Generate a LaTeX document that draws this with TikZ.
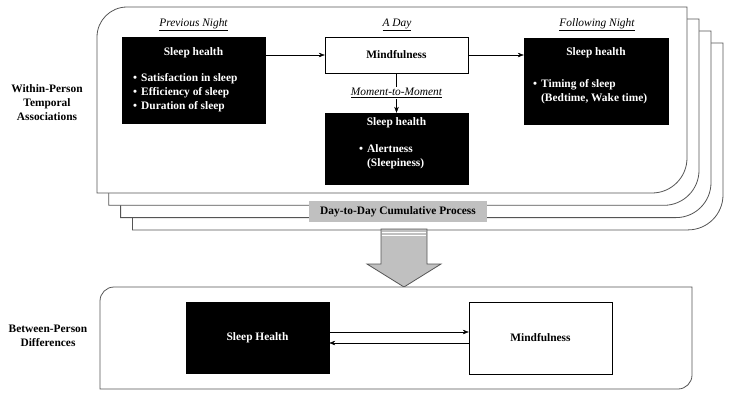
\documentclass[tikz,border=0pt]{standalone}
\usepackage{fontspec}
\setmainfont{Liberation Serif}
\usetikzlibrary{arrows.meta}
\definecolor{framegray}{HTML}{555555}
\definecolor{bandgray}{HTML}{C0C0C0}
\tikzset{
  txt/.style={font=\fontsize{11.4}{14}\selectfont\bfseries, inner sep=0pt},
  blackbox/.style={draw=black, fill=black, minimum width=143pt, minimum height=86pt, inner sep=0pt},
  whitebox/.style={draw=black, fill=white, thin, inner sep=0pt, txt},
  boxtitle/.style={txt, text=white},
  bullets/.style={txt, text=white, anchor=west, align=left},
  period/.style={font=\fontsize{11.4}{14}\selectfont\itshape, inner sep=1pt},
  side/.style={txt, align=center},
  link/.style={-{Stealth[length=6pt,width=4.5pt]}, thin},
}
\begin{document}
\begin{tikzpicture}[x=1pt,y=-1pt]
  \useasboundingbox (0,0) rectangle (735,402);
  % stacked day panels, back to front
  \foreach \i in {3,2,1,0} {
    \draw[framegray, fill=white, line width=0.8pt]
      ({97+11.8*\i},{193+12.3*\i}) -- ({97+11.8*\i},{37+12*\i})
      arc[start angle=180, end angle=270, radius=30] -- ({687+12*\i},{7+12*\i})
      -- ({687+12*\i},{158+12.3*\i})
      arc[start angle=0, end angle=90, radius=35] -- cycle;
  }
  \node[txt, fill=bandgray, minimum width=178pt, minimum height=21pt] (cum) at (398,211.5) {Day-to-Day Cumulative Process};
  % big arrow
  \draw[framegray, fill=bandgray, line width=0.8pt]
    (381,229) -- (427,229) -- (427,264) -- (441,264) -- (404,287)
    -- (367,264) -- (381,264) -- cycle;
  \draw[white, line width=0.9pt] (381.6,232) -- (426.4,232);
  \draw[white, line width=0.9pt] (381.6,235.5) -- (426.4,235.5);
  % between-person panel
  \draw[framegray, fill=white, line width=0.8pt]
    (100,389) -- (100,301) arc[start angle=180, end angle=270, radius=14]
    -- (692,287) -- (692,375) arc[start angle=0, end angle=90, radius=14] -- cycle;

  % within-person nodes
  \node[blackbox] (prev) at (193.5,80) {};
  \node[blackbox, minimum height=86pt, minimum width=144pt] (follow) at (596,81) {};
  \node[blackbox, minimum height=71pt] (moment) at (396.5,148.5) {};
  \node[whitebox, minimum width=143pt, minimum height=36pt] (mind) at (396.5,55) {Mindfulness};

  \node[period] (prevlab) at (193.5,25) {\underline{Previous Night}};
  \node[period] (daylab) at (397,25) {\underline{A Day}};
  \node[period] (followlab) at (597,25) {\underline{Following Night}};

  \node[boxtitle] (prevtitle) at (193.5,53) {Sleep health};
  \node[bullets] (prevlist) at (133,93) {\begin{tabular}{@{}l@{\hspace{4pt}}l@{}}
    \textbullet & Satisfaction in sleep\\
    \textbullet & Efficiency of sleep\\
    \textbullet & Duration of sleep
  \end{tabular}};
  \node[boxtitle] (followtitle) at (596,53) {Sleep health};
  \node[bullets] (followlist) at (533,92) {\begin{tabular}{@{}l@{\hspace{4pt}}l@{}}
    \textbullet & Timing of sleep\\
     & (Bedtime, Wake time)
  \end{tabular}};
  \node[boxtitle] (momenttitle) at (396.5,123) {Sleep health};
  \node[bullets] (momentlist) at (359,157) {\begin{tabular}{@{}l@{\hspace{4pt}}l@{}}
    \textbullet & Alertness\\
     & (Sleepiness)
  \end{tabular}};

  \draw[link] (prev.east |- mind.west) -- (mind.west);
  \draw[link] (mind.east) -- (mind.east -| follow.west);
  \draw[link] (mind.south) -- node[period, fill=white] (momentlab) {\underline{Moment-to-Moment}} (moment.north);

  % between-person nodes
  \node[blackbox, minimum width=143pt, minimum height=71pt] (health) at (257.5,337.5) {};
  \node[boxtitle] (healthtitle) at (health.center) {Sleep Health};
  \node[whitebox, minimum width=143pt, minimum height=72pt] (mindb) at (540.5,338) {Mindfulness};
  \draw[link] ([yshift=5.5pt]health.east) -- ([yshift=5.5pt]health.east -| mindb.west);
  \draw[link] ([yshift=-5.5pt]health.east -| mindb.west) -- ([yshift=-5.5pt]health.east);

  \node[side] (within) at (47,103) {Within-Person\\Temporal\\Associations};
  \node[side] (between) at (48,336) {Between-Person\\Differences};
\end{tikzpicture}
\end{document}
